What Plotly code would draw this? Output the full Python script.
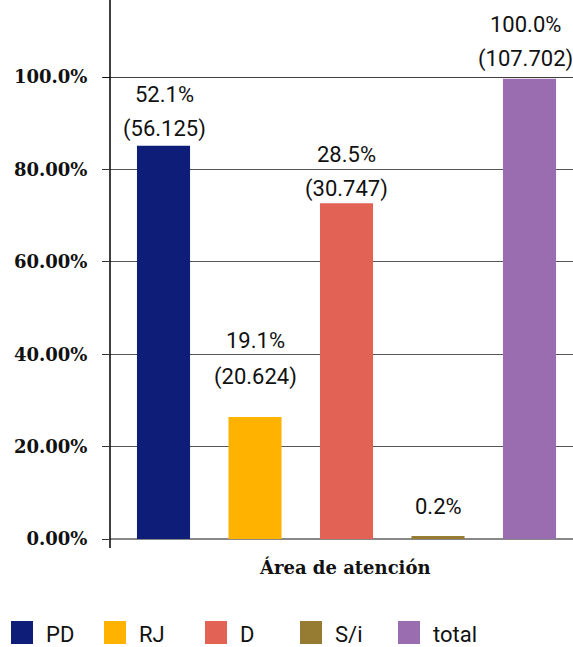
import plotly.graph_objects as go

# Categories, bar heights (% on the axis) and the printed labels
categories = ["PD", "RJ", "D", "S/i", "total"]
bar_values = [85.1, 26.4, 72.7, 0.65, 99.6]
pct_labels = ["52.1%", "19.1%", "28.5%", "0.2%", "100.0%"]
count_labels = ["(56.125)", "(20.624)", "(30.747)", "", "(107.702)"]
colors = ["#0e1e78", "#ffb200", "#e26356", "#967b32", "#9a6db0"]

tick_vals = [0, 20, 40, 60, 80, 100]
tick_text = ["0.00%", "20.00%", "40.00%", "60.00%", "80.00%", "100.0%"]

# Pixel offsets of the two label lines above each bar top
pct_shift = [51, 77, 49, 30, 54]
count_shift = [17, 40, 14, 0, 20]
label_xshift = [1, 0, 0, 0, -4]

W, H = 573, 647
ML, MR, MT, MB = 110, 0, 77, 108
plot_w = W - ML - MR
plot_h = H - MT - MB

LABEL_FONT = "Liberation Sans Narrow, Roboto, sans-serif"
SERIF = "DejaVu Serif, Liberation Serif, serif"

fig = go.Figure()
for i, (cat, val, col) in enumerate(zip(categories, bar_values, colors)):
    fig.add_trace(go.Bar(
        x=[i], y=[val], name=cat, width=0.58,
        marker=dict(color=col, line=dict(width=0)),
        showlegend=False, hoverinfo="name+y",
    ))

annotations = []
for i, val in enumerate(bar_values):
    annotations.append(dict(
        x=i, y=val, xref="x", yref="y", text=pct_labels[i], showarrow=False,
        yanchor="middle", yshift=pct_shift[i], xshift=label_xshift[i],
        font=dict(family=LABEL_FONT, size=22, color="#111"),
    ))
    if count_labels[i]:
        annotations.append(dict(
            x=i, y=val, xref="x", yref="y", text=count_labels[i], showarrow=False,
            yanchor="middle", yshift=count_shift[i], xshift=label_xshift[i],
            font=dict(family=LABEL_FONT, size=22, color="#111"),
        ))

# Legend drawn as swatches + text along the bottom
def px_to_paper_x(px):
    return (px - ML) / plot_w

def py_to_paper_y(py):
    return (H - MB - py) / plot_h

legend_x = [11, 104, 205, 300, 398]
shapes = []
for cat, col, lx in zip(categories, colors, legend_x):
    shapes.append(dict(
        type="rect", xref="paper", yref="paper",
        x0=px_to_paper_x(lx), x1=px_to_paper_x(lx + 22),
        y0=py_to_paper_y(644), y1=py_to_paper_y(621),
        fillcolor=col, line=dict(width=0),
    ))
    annotations.append(dict(
        x=px_to_paper_x(lx + 33), y=py_to_paper_y(634), xref="paper", yref="paper",
        text=cat, showarrow=False, xanchor="left", yanchor="middle",
        font=dict(family=LABEL_FONT, size=22, color="#111"),
    ))

# Axis title
annotations.append(dict(
    x=px_to_paper_x(345), y=py_to_paper_y(567), xref="paper", yref="paper",
    text="<b>Área de atención</b>", showarrow=False, xanchor="center", yanchor="middle",
    font=dict(family=SERIF, size=18, color="#111"),
))

# Top gridline in black and the vertical axis extending to the top edge
shapes.append(dict(type="line", xref="paper", yref="y", x0=px_to_paper_x(103), x1=1,
                   y0=100, y1=100, line=dict(color="#000", width=1.5)))
shapes.append(dict(type="line", xref="paper", yref="paper", x0=0, x1=0,
                   y0=py_to_paper_y(548), y1=py_to_paper_y(0), line=dict(color="#000", width=1.5)))

x0 = -(163.5 - ML) / 91.5
fig.update_layout(
    width=W, height=H,
    margin=dict(l=ML, r=MR, t=MT, b=MB, pad=0),
    paper_bgcolor="white", plot_bgcolor="white",
    barmode="overlay",
    showlegend=False,
    xaxis=dict(range=[x0, x0 + plot_w / 91.5], showticklabels=False, showgrid=False,
               zeroline=False, showline=False, ticks=""),
    yaxis=dict(range=[0, 100], tickvals=tick_vals, ticktext=tick_text,
               showgrid=True, gridcolor="#555", gridwidth=1,
               ticks="outside", ticklen=7, tickcolor="#333", tickwidth=1,
               zeroline=True, zerolinecolor="#888", zerolinewidth=2,
               showline=False, ticklabelstandoff=11,
               tickfont=dict(family=SERIF, size=18, color="#111", weight="bold")),
    shapes=shapes,
    annotations=annotations,
)

fig.write_html("out.html")
